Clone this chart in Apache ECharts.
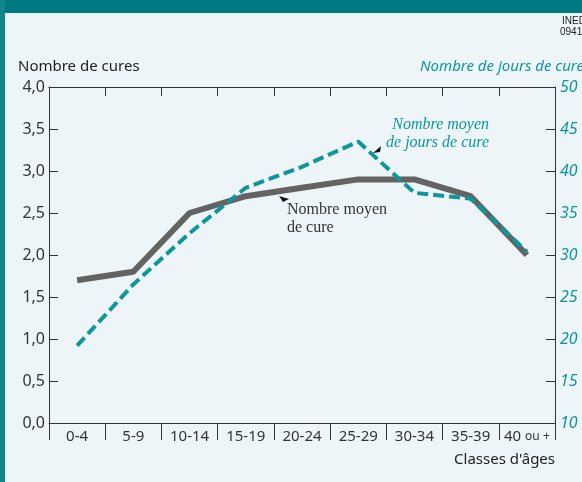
<!DOCTYPE html>
<html>
<head>
<meta charset="utf-8">
<script src="https://cdn.jsdelivr.net/npm/echarts@6/dist/echarts.min.js"></script>
<style>
html, body { margin: 0; padding: 0; background: #edf5f8; }
#main { width: 582px; height: 482px; }
</style>
</head>
<body>
<div id="main"></div>
<script>
// classes d'âges
const ageClasses = ['0-4', '5-9', '10-14', '15-19', '20-24', '25-29', '30-34', '35-39', '40 ou +'];
// nombre moyen de cures (axe gauche)
const meanCures = [1.7, 1.8, 2.5, 2.7, 2.8, 2.9, 2.9, 2.7, 2.0];
// nombre moyen de jours de cure (axe droit)
const meanDays = [19.2, 26.5, 32.6, 38.0, 40.5, 43.5, 37.4, 36.7, 30.4];

const chartDom = document.getElementById('main');
const myChart = echarts.init(chartDom);

const teal = '#0e969b';
const grey = '#636363';
const axisColor = '#333';
const sans = 'Noto Sans';

// grid
let grid = {
    left: 49,
    right: 27,
    top: 87,
    bottom: 59
};

// xAxis : bas + ligne du haut
let xAxis = [{
    type: 'category',
    data: ageClasses,
    boundaryGap: true,
    axisLine: { lineStyle: { color: axisColor, width: 1 } },
    axisTick: { show: true, interval: 0, length: 17, lineStyle: { color: axisColor } },
    axisLabel: {
        color: '#333',
        fontFamily: sans,
        fontSize: 15,
        margin: 6,
        interval: 0,
        // "ou +" plus petit, comme sur l'original
        formatter: v => v.indexOf(' ou ') > 0 ? v.replace(' ou +', ' {s|ou +}') : v,
        rich: { s: { fontSize: 12, fontFamily: sans, color: '#333' } }
    }
}, {
    type: 'category',
    position: 'top',
    data: ageClasses,
    boundaryGap: true,
    axisLine: { lineStyle: { color: axisColor, width: 1 } },
    axisTick: { show: true, inside: true, interval: 0, length: 9, lineStyle: { color: axisColor } },
    axisLabel: { show: false }
}];

// yAxis
let yAxis = [{
    type: 'value',
    min: 0,
    max: 4,
    interval: 0.5,
    splitLine: { show: false },
    axisLine: { show: true, lineStyle: { color: axisColor } },
    axisTick: { show: true, inside: true, length: 9, lineStyle: { color: axisColor } },
    axisLabel: {
        color: '#333',
        fontFamily: sans,
        fontSize: 16,
        margin: 4,
        formatter: v => v.toFixed(1).replace('.', ',')
    }
}, {
    type: 'value',
    min: 10,
    max: 50,
    interval: 5,
    position: 'right',
    splitLine: { show: false },
    axisLine: { show: true, lineStyle: { color: axisColor } },
    axisTick: { show: true, inside: true, length: 9, lineStyle: { color: axisColor } },
    axisLabel: {
        color: teal,
        fontFamily: sans,
        fontStyle: 'italic',
        fontSize: 16,
        margin: 5
    }
}];

// series
let series = [{
    name: 'Nombre moyen de cure',
    type: 'line',
    yAxisIndex: 0,
    data: meanCures,
    symbol: 'none',
    lineStyle: { color: grey, width: 6 },
    z: 2
}, {
    name: 'Nombre moyen de jours de cure',
    type: 'line',
    yAxisIndex: 1,
    data: meanDays,
    symbol: 'none',
    lineStyle: { color: teal, width: 4, type: [11, 5] },
    z: 3
}];

// textes et cadre
let graphic = [
    { type: 'rect', shape: { x: 0, y: 0, width: 582, height: 13 }, style: { fill: '#007a82' }, silent: true },
    { type: 'rect', shape: { x: 0, y: 0, width: 5, height: 482 }, style: { fill: '#10868c' }, silent: true },
    { type: 'text', x: 562, y: 16, style: { text: 'INED', fill: '#222', font: '10px "Liberation Sans Narrow", "Liberation Sans"' } },
    { type: 'text', x: 560, y: 27, style: { text: '09411', fill: '#222', font: '10px "Liberation Sans Narrow", "Liberation Sans"' } },
    { type: 'text', x: 18, y: 59, style: { text: 'Nombre de cures', fill: '#222', font: '15px "Noto Sans"' } },
    { type: 'text', x: 584, y: 59, style: { text: 'Nombre de jours de cure', fill: teal, align: 'right', font: 'italic 15px "Noto Sans"' } },
    { type: 'text', x: 555, y: 452, style: { text: "Classes d'âges", fill: '#222', align: 'right', font: '15px "Noto Sans"' } },
    { type: 'text', x: 489, y: 116, style: { text: 'Nombre moyen\nde jours de cure', fill: teal, align: 'right', lineHeight: 18, font: 'italic 16px "Liberation Serif"' } },
    { type: 'text', x: 287, y: 201, style: { text: 'Nombre moyen\nde cure', fill: '#333', align: 'left', lineHeight: 18, font: '16px "Liberation Serif"' } },
    { type: 'polygon', shape: { points: [[373, 153], [381, 146], [380, 152]] }, style: { fill: '#111' } },
    { type: 'polygon', shape: { points: [[279, 196], [289, 199], [283, 202]] }, style: { fill: '#111' } }
];

const option = {
    backgroundColor: '#edf5f8',
    animation: false,
    grid,
    xAxis,
    yAxis,
    series,
    graphic
};

option && myChart.setOption(option);
</script>
</body>
</html>
